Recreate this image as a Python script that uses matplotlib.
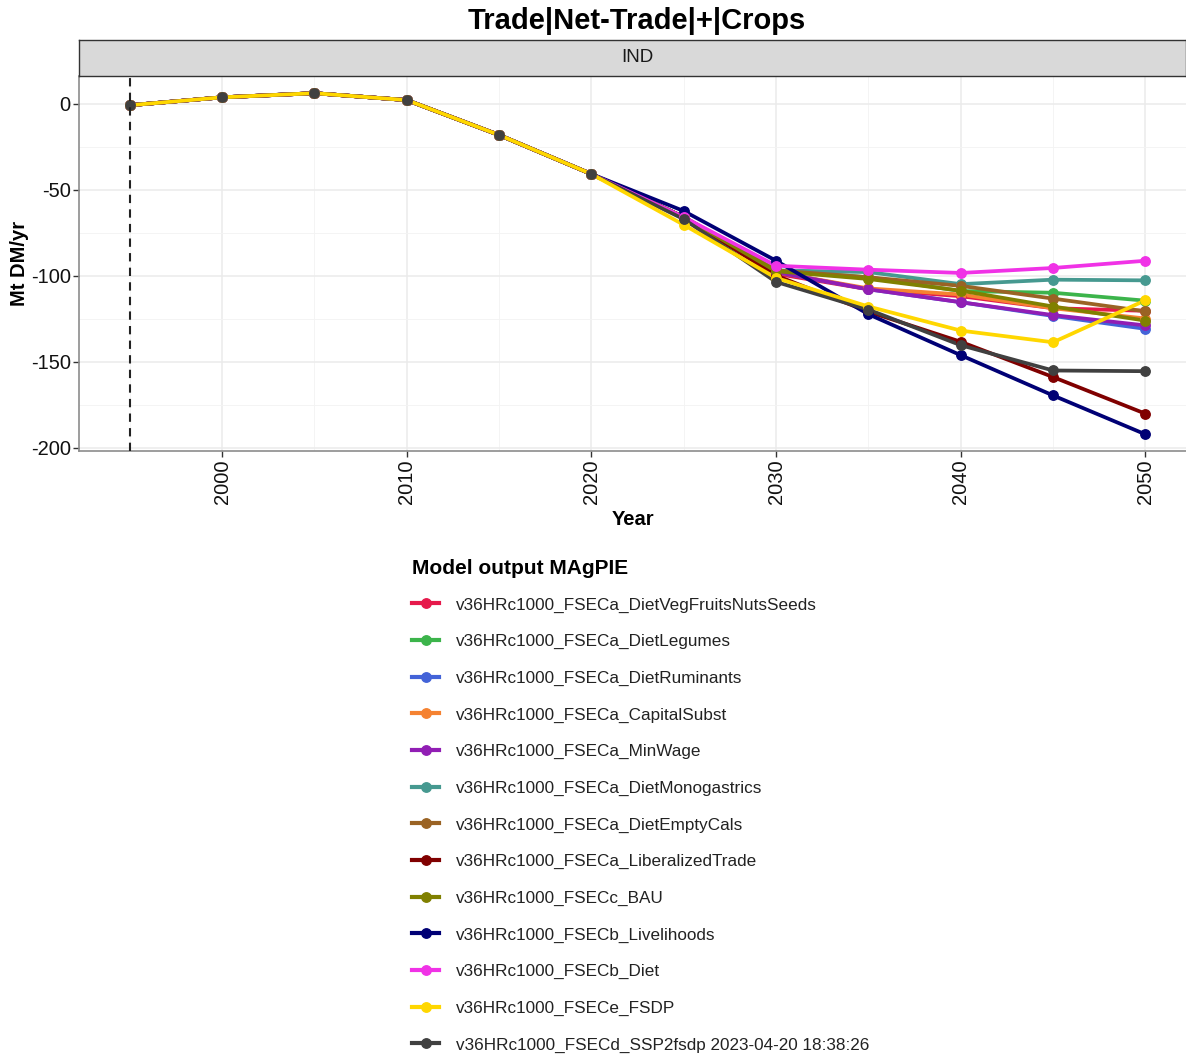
import matplotlib
matplotlib.use("Agg")
import matplotlib.pyplot as plt
from matplotlib.lines import Line2D

plt.rcParams["font.family"] = ["Liberation Sans", "DejaVu Sans"]

W, H = 1186, 1059

years = [1995, 2000, 2005, 2010, 2015, 2020, 2025, 2030, 2035, 2040, 2045, 2050]

# common historical path (1995-2020)
history = [-1.0, 3.6, 6.0, 2.0, -18.3, -41.0]

# scenario projections 2025-2050
veg_fruits_nuts = [-66.0, -99.0, -108.0, -112.0, -119.0, -120.5]
legumes = [-66.0, -97.0, -101.0, -109.0, -110.0, -114.6]
ruminants = [-66.0, -98.0, -108.0, -115.5, -123.5, -131.0]
capital_subst = [-66.0, -98.0, -107.5, -111.0, -119.0, -125.0]
min_wage = [-66.0, -98.0, -108.0, -115.5, -123.0, -129.0]
monogastrics = [-66.0, -97.0, -98.0, -105.0, -102.4, -102.8]
empty_cals = [-66.0, -97.0, -101.0, -106.0, -113.4, -120.8]
liberalized_trade = [-66.0, -100.0, -121.0, -138.5, -159.0, -180.3]
bau = [-66.0, -97.5, -102.0, -108.8, -118.0, -126.2]
livelihoods = [-62.5, -91.4, -122.5, -146.3, -169.7, -192.3]
diet = [-66.0, -94.3, -96.6, -98.5, -95.6, -91.4]
fsdp = [-70.5, -101.4, -118.0, -132.0, -138.8, -114.4]
ssp2fsdp = [-67.2, -103.7, -119.8, -140.5, -155.2, -155.6]

labels = [
    "v36HRc1000_FSECa_DietVegFruitsNutsSeeds",
    "v36HRc1000_FSECa_DietLegumes",
    "v36HRc1000_FSECa_DietRuminants",
    "v36HRc1000_FSECa_CapitalSubst",
    "v36HRc1000_FSECa_MinWage",
    "v36HRc1000_FSECa_DietMonogastrics",
    "v36HRc1000_FSECa_DietEmptyCals",
    "v36HRc1000_FSECa_LiberalizedTrade",
    "v36HRc1000_FSECc_BAU",
    "v36HRc1000_FSECb_Livelihoods",
    "v36HRc1000_FSECb_Diet",
    "v36HRc1000_FSECe_FSDP",
    "v36HRc1000_FSECd_SSP2fsdp 2023-04-20 18:38:26",
]
projections = [veg_fruits_nuts, legumes, ruminants, capital_subst, min_wage,
               monogastrics, empty_cals, liberalized_trade, bau, livelihoods,
               diet, fsdp, ssp2fsdp]
colors = ["#E6194B", "#3CB44B", "#4363D8", "#F58231", "#911EB4", "#469990",
          "#9A6324", "#800000", "#808000", "#000075", "#F032E6", "#FFD700",
          "#404040"]

x_ticks = [2000, 2010, 2020, 2030, 2040, 2050]
y_ticks = [-200, -150, -100, -50, 0]

fig = plt.figure(figsize=(W / 100, H / 100), dpi=100)


def fx(px):
    return px / W


def fy(py):
    return 1 - py / H


# panel
p_left, p_right, p_top, p_bot = 79, 1186, 76, 451
ax = fig.add_axes([fx(p_left), fy(p_bot), fx(p_right - p_left), (p_bot - p_top) / H])
ax.set_facecolor("white")

# line drawing order: SSP2 line under FSDP line, points with SSP2 on top
line_order = [0, 1, 2, 3, 4, 5, 6, 7, 8, 9, 10, 12, 11]
for rank, i in enumerate(line_order):
    ax.plot(years, history + projections[i], color=colors[i], lw=2.7,
            solid_capstyle="butt", zorder=3 + rank * 0.01)
for i in range(len(labels)):
    ax.plot(years, history + projections[i], ls="none", marker="o", ms=6.8,
            color=colors[i], zorder=4 + i * 0.01)

ax.axvline(1995, color="#222222", lw=1.5, ls=(0, (4, 3)), zorder=5)

ax.set_xlim(1992.25, 2052.2)
ax.set_ylim(-202, 16)
ax.set_xticks(x_ticks)
ax.set_xticks([1995, 2005, 2015, 2025, 2035, 2045], minor=True)
ax.set_yticks(y_ticks)
ax.set_yticks([-175, -125, -75, -25], minor=True)
ax.set_yticklabels([str(v) for v in y_ticks])
ax.grid(True, which="major", color="#EBEBEB", lw=1.1, zorder=0)
ax.grid(True, which="minor", color="#F3F3F3", lw=0.6, zorder=0)
ax.set_axisbelow(True)

ax.tick_params(axis="both", which="major", length=4, width=1, color="#333333",
               labelsize=14.5, labelcolor="#111111", pad=2)
ax.tick_params(axis="both", which="minor", length=0)
ax.tick_params(axis="x", labelrotation=90)
for lab in ax.get_xticklabels():
    lab.set_va("top")

for side in ("top", "right"):
    ax.spines[side].set_visible(False)
for side in ("left", "bottom"):
    ax.spines[side].set_color("#8C8C8C")
    ax.spines[side].set_linewidth(1.2)

ax.set_xlabel("Year", fontsize=14.5, fontweight="bold", labelpad=4)
ax.set_ylabel("Mt DM/yr", fontsize=14.5, fontweight="bold", labelpad=1)

# facet strip
strip = fig.add_axes([fx(p_left), fy(p_top), fx(p_right - p_left), (p_top - 40) / H])
strip.set_facecolor("#D9D9D9")
strip.set_xticks([])
strip.set_yticks([])
for s in strip.spines.values():
    s.set_color("#333333")
    s.set_linewidth(1.0)
strip.text(fx(637 - p_left) / fx(p_right - p_left), 0.5, "IND", ha="center",
           va="center", fontsize=13.5, color="#1A1A1A", transform=strip.transAxes)

fig.text(fx(637), fy(21), "Trade|Net-Trade|+|Crops", ha="center", va="center",
         fontsize=21, fontweight="bold")

handles = [Line2D([0], [0], color=c, lw=3.0, marker="o", ms=6.8) for c in colors]
leg = fig.legend(handles, labels, loc="upper left",
                 bbox_to_anchor=(fx(412), fy(559)),
                 frameon=False, fontsize=12.3, title="Model output MAgPIE",
                 title_fontproperties={"size": 15, "weight": "bold"},
                 handlelength=1.6, handletextpad=0.95, labelspacing=1.26,
                 alignment="left", borderpad=0, borderaxespad=0)
leg._legend_box.sep = 14
for t in leg.get_texts():
    t.set_color("#222222")

fig.savefig("out.png", dpi=100)
